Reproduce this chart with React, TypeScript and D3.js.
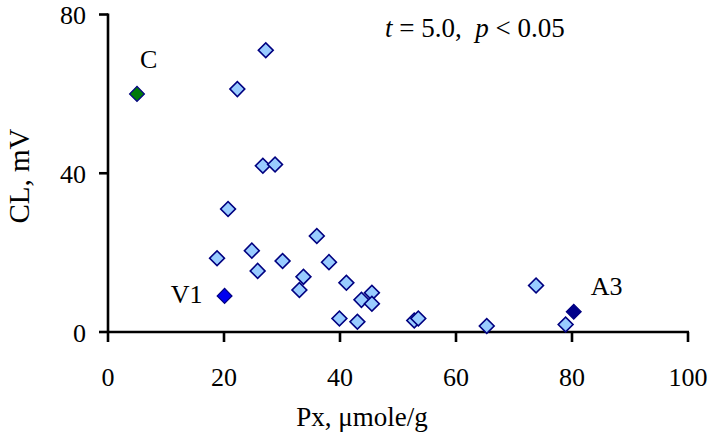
import React from "react";
import * as d3 from "d3";

const xTicks = [0, 20, 40, 60, 80, 100];
const yTicks = [0, 40, 80];

const pxValues = [27.2, 22.3, 26.7, 28.8, 20.7, 18.8, 24.8, 25.8, 30.1, 36.0, 33.7, 33.0, 38.1, 41.1, 39.9, 43.0, 43.7, 45.5, 45.5, 52.8, 53.5, 65.3, 73.8, 78.9];
const clValues = [71.0, 61.2, 41.9, 42.2, 31.0, 18.6, 20.5, 15.4, 17.9, 24.2, 13.9, 10.6, 17.6, 12.4, 3.4, 2.6, 8.1, 9.9, 7.1, 2.9, 3.4, 1.5, 11.7, 1.9];

const specialNames = ["C", "V1", "A3"];
const specialPx = [5.0, 20.1, 80.3];
const specialCl = [60.0, 9.1, 5.1];
const specialFill = ["#007A0A", "#0000F0", "#00008B"];

const FONT = "'Liberation Serif', 'Times New Roman', serif";

export default function App() {
  const W = 709, H = 436;
  const x = d3.scaleLinear().domain([0, 100]).range([108, 688]);
  const y = d3.scaleLinear().domain([0, 80]).range([332, 14.5]);
  const diamond = d3.symbol(d3.symbolSquare, 110)() as string;

  const labelOffsets: Record<string, { dx: number; dy: number; anchor: string }> = {
    C: { dx: 3, dy: -26, anchor: "start" },
    V1: { dx: -22, dy: 7, anchor: "end" },
    A3: { dx: 17, dy: -17, anchor: "start" },
  };

  return (
    <svg width={W} height={H} style={{ position: "absolute", left: 0, top: 0, background: "#fff" }} fontFamily={FONT}>
      {/* axes */}
      <line x1={x(0)} x2={x(0)} y1={y(80) - 1} y2={y(0) + 1} stroke="#000" strokeWidth={2.6} />
      <line x1={x(0) - 1} x2={x(100) + 1} y1={y(0)} y2={y(0)} stroke="#000" strokeWidth={2.6} />
      {yTicks.map((t) => (
        <g key={"y" + t}>
          <line x1={x(0) - 9} x2={x(0)} y1={y(t)} y2={y(t)} stroke="#000" strokeWidth={2.6} />
          <text x={86} y={y(t) + 9.5} textAnchor="end" fontSize={26} fill="#000">{t}</text>
        </g>
      ))}
      {xTicks.map((t) => (
        <g key={"x" + t}>
          <line x1={x(t)} x2={x(t)} y1={y(0)} y2={y(0) + 10} stroke="#000" strokeWidth={2.6} />
          <text x={x(t)} y={386} textAnchor="middle" fontSize={26} fill="#000">{t}</text>
        </g>
      ))}
      <text x={362} y={426} textAnchor="middle" fontSize={27} fill="#000">Px, μmole/g</text>
      <text transform="translate(29,176) rotate(-90)" textAnchor="middle" fontSize={29} fill="#000">CL, mV</text>
      <text x={385} y={37} fontSize={27} fill="#000" style={{ whiteSpace: "pre" }}>
        <tspan fontStyle="italic">t</tspan>
        <tspan>{" = 5.0,\u00A0\u00A0"}</tspan>
        <tspan fontStyle="italic">p</tspan>
        <tspan>{" < 0.05"}</tspan>
      </text>
      {/* main points */}
      {pxValues.map((v, i) => (
        <path key={"p" + i} d={diamond} transform={`translate(${x(v)},${y(clValues[i])}) rotate(45)`} fill="#99CCFF" stroke="#000080" strokeWidth={1.6} />
      ))}
      {/* special points */}
      {specialNames.map((n, i) => {
        const o = labelOffsets[n];
        return (
          <g key={n}>
            <path d={diamond} transform={`translate(${x(specialPx[i])},${y(specialCl[i])}) rotate(45)`} fill={specialFill[i]} stroke="#000080" strokeWidth={1.2} />
            <text x={x(specialPx[i]) + o.dx} y={y(specialCl[i]) + o.dy} textAnchor={o.anchor} fontSize={26} fill="#000">{n}</text>
          </g>
        );
      })}
    </svg>
  );
}
